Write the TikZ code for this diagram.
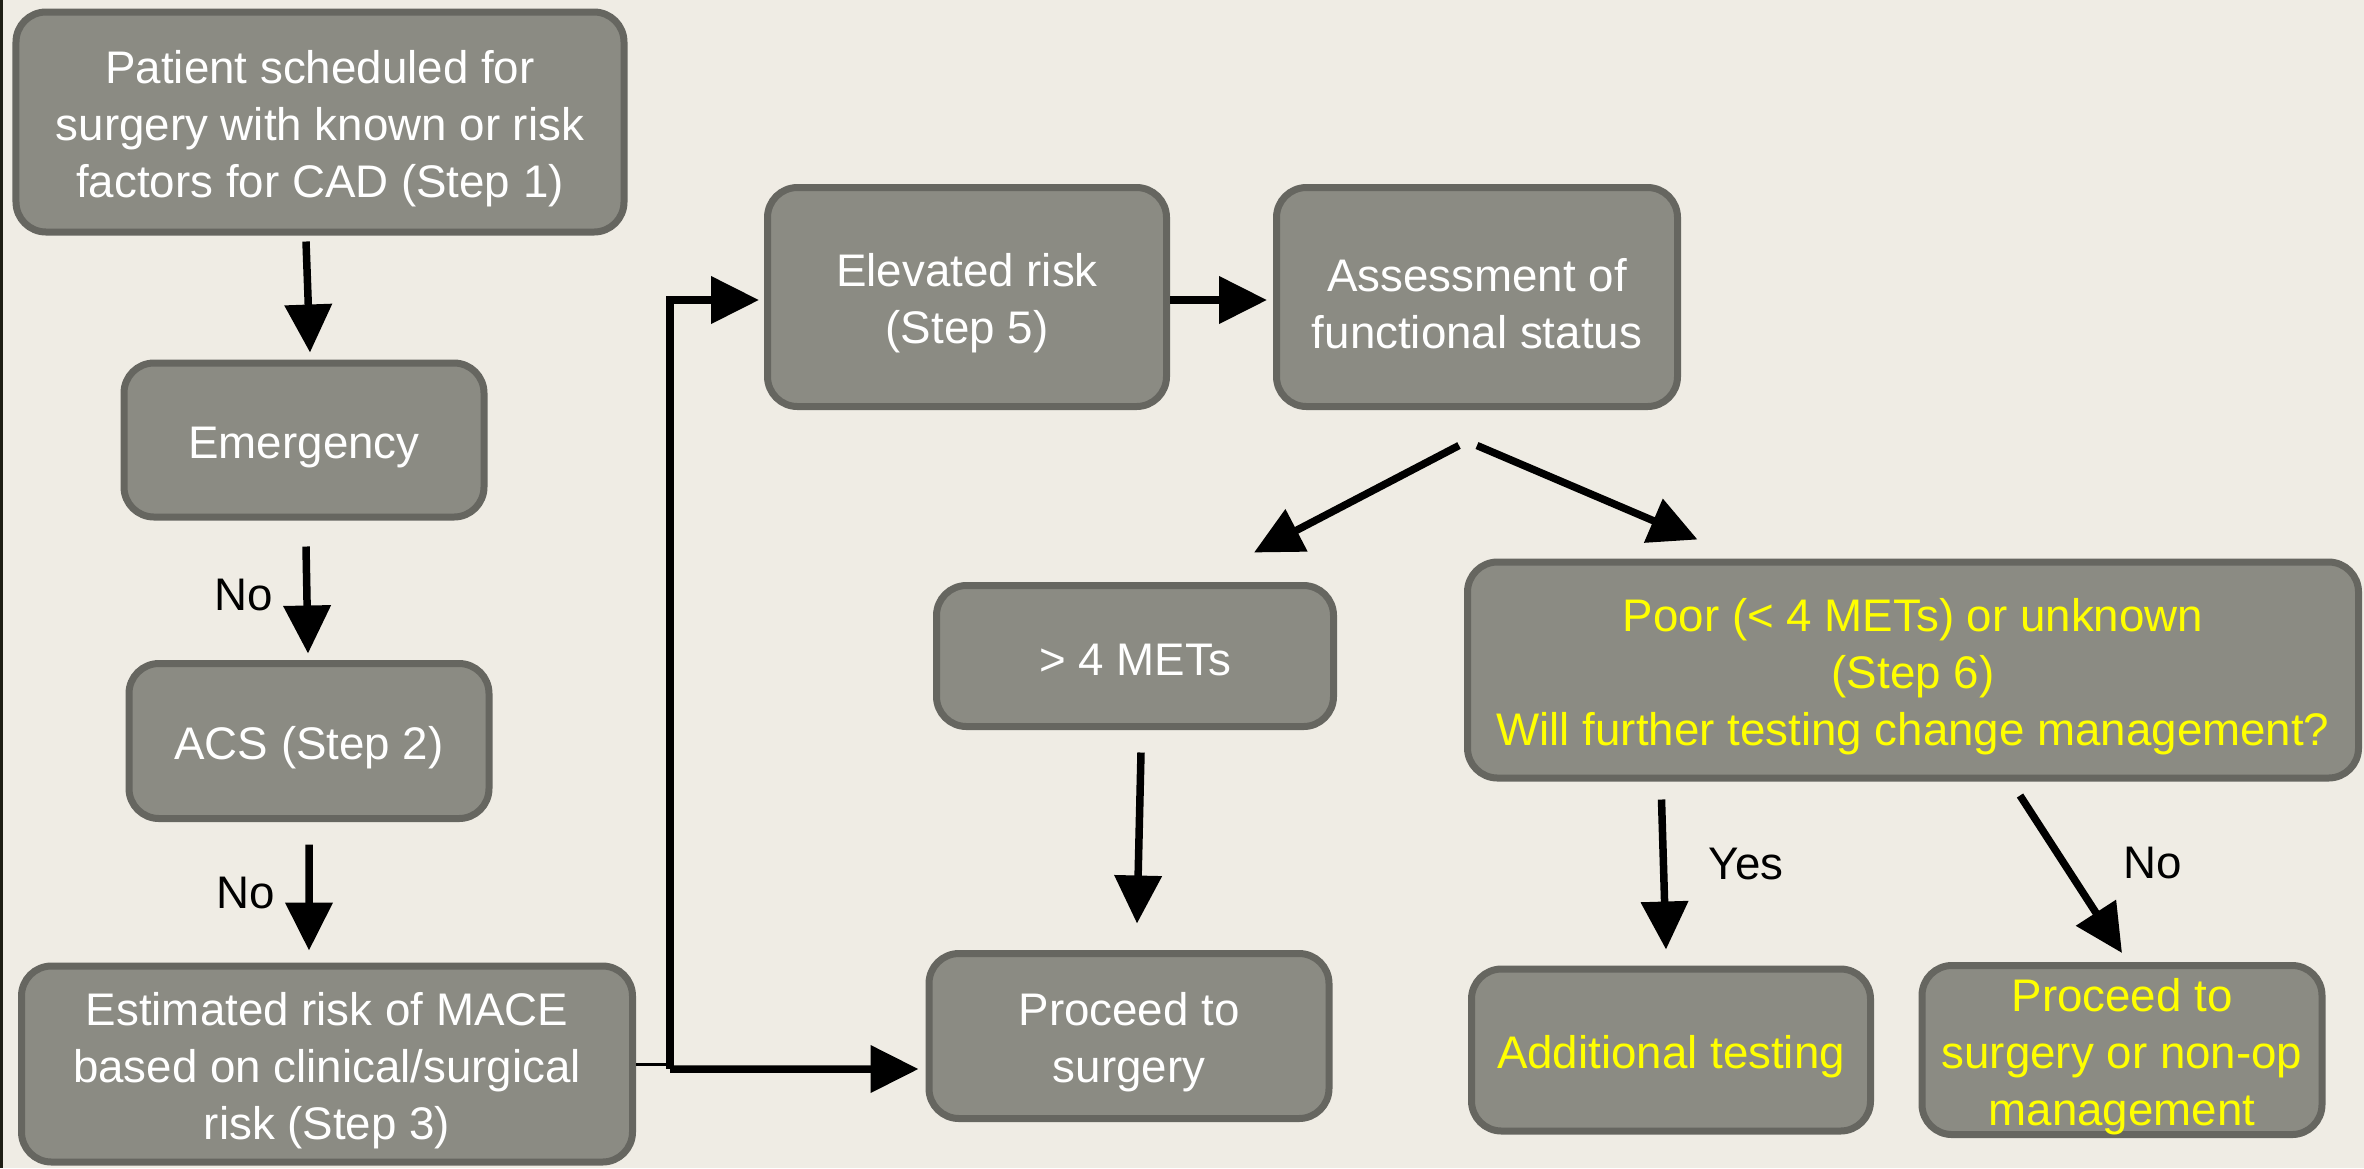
\documentclass[tikz,border=0pt]{standalone}
\usepackage{fontspec}
\setmainfont{Liberation Sans}
\usetikzlibrary{arrows.meta,positioning}
\definecolor{bg}{RGB}{239,236,228}
\definecolor{boxgray}{RGB}{139,139,131}
\definecolor{boxedge}{RGB}{102,102,96}
\definecolor{hilite}{RGB}{255,255,0}
\definecolor{edgestrip}{RGB}{30,30,20}
\newcommand{\topstrut}{\rule{0pt}{13pt}}

\begin{document}
\begin{tikzpicture}[>={Triangle[length=4.8mm,width=4.6mm]},font=\fontsize{13}{16.2}\selectfont,
box/.style={draw=boxedge,line width=0.7mm,fill=boxgray,rounded corners=3mm,inner sep=0pt,align=center,text=white},
ybox/.style={box,text=hilite},
arr/.style={->,line width=0.75mm}]
\fill[bg] (0,0) rectangle (23.64,-11.68);
\fill[edgestrip] (0,0) rectangle (0.03,-11.68);
\useasboundingbox (0,0) rectangle (23.64,-11.68);
\node[box,minimum width=6.08cm,minimum height=2.2cm] (pat) at (3.20,-1.22) {\topstrut Patient scheduled for\\surgery with known or risk\\factors for CAD (Step 1)};
\node[box,minimum width=3.6cm,minimum height=1.54cm] (emg) at (3.04,-4.40) {\topstrut Emergency};
\node[box,minimum width=3.6cm,minimum height=1.55cm] (acs) at (3.09,-7.41) {\topstrut ACS (Step 2)};
\node[box,minimum width=6.11cm,minimum height=1.96cm] (mace) at (3.27,-10.64) {\topstrut Estimated risk of MACE\\based on clinical/surgical\\risk (Step 3)};
\node[box,minimum width=3.99cm,minimum height=2.19cm] (elev) at (9.67,-2.97) {\topstrut Elevated risk\\(Step 5)};
\node[box,minimum width=4.01cm,minimum height=2.19cm] (fnc) at (14.77,-2.97) {\topstrut Assessment of\\functional status};
\node[box,minimum width=3.97cm,minimum height=1.41cm] (mets) at (11.35,-6.56) {\rule{0pt}{11pt}> 4 METs};
\node[box,minimum width=4cm,minimum height=1.65cm] (surg) at (11.29,-10.36) {\topstrut Proceed to\\surgery};
\node[ybox,minimum width=8.91cm,minimum height=2.16cm] (poor) at (19.13,-6.70) {\topstrut Poor (< 4 METs) or unknown\\(Step 6)\\Will further testing change management?};
\node[ybox,minimum width=3.99cm,minimum height=1.62cm] (addt) at (16.71,-10.50) {\topstrut Additional testing};
\node[ybox,minimum width=4cm,minimum height=1.62cm] (nonop) at (21.22,-10.50) {\topstrut Proceed to\\surgery or non-op\\management};
\coordinate (jn) at (6.70,-10.69);
\draw[arr] ([xshift=-1.4mm,yshift=-.6mm]pat.south) -- ([xshift=.6mm,yshift=.7mm]emg.north);
\draw[arr] ([xshift=.2mm,yshift=-2.6mm]emg.south) -- node[pos=.45,left=1.9mm]{No} ([xshift=-.1mm,yshift=.65mm]acs.north);
\draw[arr] ([yshift=-2.25mm]acs.south) -- node[pos=.46,left=1.9mm]{No} ([xshift=-1.8mm,yshift=1.2mm]mace.north);
\draw[line width=.3mm] (mace.east) -- (mace.east -| jn);
\draw[arr] (jn) -- ([xshift=-.7mm,yshift=-3.3mm]surg.west);
\draw[arr] (jn) |- ([xshift=-.5mm,yshift=-.3mm]elev.west);
\draw[arr] ([yshift=-.3mm]elev.east) -- ([xshift=-.6mm,yshift=-.3mm]fnc.west);
\draw[arr] ([xshift=-1.8mm,yshift=-3.55mm]fnc.south) -- ([xshift=11.9mm,yshift=2.95mm]mets.north);
\draw[arr] ([yshift=-3.55mm]fnc.south) -- ([xshift=23.35mm,yshift=1.9mm]poor.north west);
\draw[arr] ([xshift=.6mm,yshift=-2.25mm]mets.south) -- ([xshift=.8mm,yshift=2.65mm]surg.north);
\draw[arr] ([xshift=19.75mm,yshift=-1.8mm]poor.south west) -- node[pos=.43,right=3mm]{Yes} ([xshift=-.5mm,yshift=1.6mm]addt.north);
\draw[arr] ([xshift=10.7mm,yshift=-1.4mm]poor.south) -- node[pos=.43,right=4.4mm]{No} ([yshift=.9mm]nonop.north);
\end{tikzpicture}
\end{document}
